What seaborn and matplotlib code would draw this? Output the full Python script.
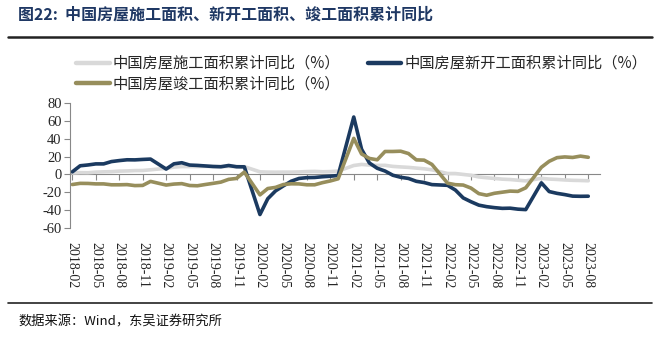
import matplotlib
matplotlib.use("Agg")
import matplotlib.pyplot as plt
import seaborn as sns
import pandas as pd
from matplotlib.lines import Line2D

# ---- data (cumulative YoY, %; January not published) ----
years = [2018, 2019, 2020, 2021, 2022, 2023]
months_full = [2, 3, 4, 5, 6, 7, 8, 9, 10, 11, 12]
months_2023 = [2, 3, 4, 5, 6, 7, 8]

under_construction = [
    1.6, 2.0, 1.9, 2.6, 2.9, 3.1, 3.7, 3.9, 4.3, 4.4, 5.2,
    6.8, 8.2, 8.8, 8.8, 8.8, 9.0, 8.8, 8.7, 9.0, 8.7, 8.7,
    2.9, 2.6, 2.5, 2.6, 2.6, 2.8, 3.2, 3.4, 3.0, 3.2, 3.7,
    10.0, 11.2, 10.5, 10.1, 10.2, 9.0, 8.4, 7.9, 7.1, 6.3, 5.2,
    1.0, 1.0, 0.0, -1.0, -2.8, -3.7, -4.5, -5.3, -5.7, -6.5, -7.2,
    -4.4, -5.2, -5.6, -6.2, -6.6, -6.8, -7.1,
]
new_starts = [
    2.9, 9.7, 10.6, 11.8, 11.8, 14.4, 15.5, 16.4, 16.3, 16.8, 17.2,
    6.0, 11.9, 13.1, 10.5, 10.1, 9.5, 8.9, 8.6, 10.0, 8.6, 8.5,
    -44.9, -27.2, -18.4, -12.8, -7.6, -4.5, -3.6, -3.4, -2.6, -2.0, -1.2,
    64.3, 28.2, 12.8, 6.9, 3.8, -0.9, -3.2, -4.5, -7.7, -9.1, -11.4,
    -12.2, -17.5, -26.3, -30.6, -34.4, -36.1, -37.2, -38.0, -37.8, -38.9, -39.4,
    -9.4, -19.2, -21.2, -22.6, -24.3, -24.5, -24.4,
]
completions = [
    -11.3, -10.0, -10.1, -10.6, -10.6, -11.6, -11.6, -11.4, -12.5, -12.3, -7.8,
    -11.9, -10.8, -10.3, -12.4, -12.7, -11.3, -10.0, -8.6, -5.5, -4.5, 2.6,
    -22.9, -15.8, -14.5, -11.3, -10.5, -10.6, -11.6, -11.6, -9.2, -7.3, -4.9,
    40.4, 22.9, 17.9, 16.4, 25.7, 25.7, 26.0, 23.4, 16.3, 16.0, 11.2,
    -9.8, -11.5, -11.9, -15.3, -21.5, -23.3, -21.1, -19.9, -18.7, -19.0, -15.0,
    8.0, 14.7, 18.8, 19.6, 19.0, 20.5, 19.2,
]
series_names = ["中国房屋施工面积累计同比（%）",
                "中国房屋新开工面积累计同比（%）",
                "中国房屋竣工面积累计同比（%）"]
colors = ["#D9D9D9", "#1B3A60", "#978E5C"]
yticks = [-60, -40, -20, 0, 20, 40, 60, 80]

# ---- build table ----
periods = []
for y in years:
    for m in (months_2023 if y == 2023 else months_full):
        periods.append((y, m))
xpos = [(y - 2018) * 12 + (m - 2) for y, m in periods]
rows = []
for name, vals in zip(series_names, [under_construction, new_starts, completions]):
    for x, v in zip(xpos, vals):
        rows.append({"x": x, "value": v, "series": name})
df = pd.DataFrame(rows)

tick_pos = list(range(0, xpos[-1] + 1, 3))
tick_lab = []
for p in tick_pos:
    yy = 2018 + (p + 1) // 12
    mm = (p + 1) % 12 + 1
    tick_lab.append(f"{yy}-{mm:02d}")

# ---- draw ----
sns.set_style("white")
plt.rcParams["font.family"] = ["Noto Sans CJK SC", "DejaVu Sans"]

fig = plt.figure(figsize=(6.6, 3.37), dpi=100)
ax = fig.add_axes([70 / 660, 1 - 228 / 337, 530 / 660, 125 / 337])

sns.lineplot(data=df, x="x", y="value", hue="series", hue_order=series_names,
             palette=colors, linewidth=2.6, ax=ax, legend=False,
             solid_capstyle="round", solid_joinstyle="round")

for s in ["top", "right"]:
    ax.spines[s].set_visible(False)
ax.spines["bottom"].set_position(("data", 0))
ax.spines["left"].set_color("#888888")
ax.spines["left"].set_linewidth(0.8)
ax.spines["bottom"].set_color("#888888")
ax.spines["bottom"].set_linewidth(0.8)
ax.spines["bottom"].set_zorder(0.5)

ax.set_xlim(-0.3, 67.5)
ax.set_ylim(-60, 80)
ax.set_yticks(yticks)
ax.set_yticklabels([str(v) for v in yticks], family="Liberation Serif", fontsize=10.5)
ax.set_xticks(tick_pos)
ax.set_xticklabels(tick_lab, rotation=270, family="Liberation Serif", fontsize=10,
                   va="top", ha="center")
ax.set_xlabel("")
ax.set_ylabel("")
ax.tick_params(axis="y", direction="out", length=4, color="#888888", pad=2, left=True)
ax.tick_params(axis="x", direction="out", length=4, color="#888888", pad=45, bottom=True)
ax.grid(False)

# legend (order so rows read: grey, blue / gold)
handles = [Line2D([0], [0], color=c, lw=3.2) for c in colors]
order = [0, 2, 1]
fig.legend([handles[i] for i in order], [series_names[i] for i in order],
           loc="upper left", bbox_to_anchor=(76 / 660, 1 - 55 / 337), ncol=2,
           frameon=False, fontsize=11, handlelength=2.2, handletextpad=0.2,
           columnspacing=1.8, labelspacing=0.25, borderaxespad=0, borderpad=0)

# title and rules
fig.text(18 / 660, 1 - 15 / 337, "图22:  中国房屋施工面积、新开工面积、竣工面积累计同比",
         fontsize=11.5, fontweight="bold", color="#1F3864", va="center", ha="left")
fig.add_artist(Line2D([8 / 660, 652 / 660], [1 - 37 / 337, 1 - 37 / 337],
                      color="#222222", lw=1.8, transform=fig.transFigure))
fig.add_artist(Line2D([8 / 660, 652 / 660], [1 - 303 / 337, 1 - 303 / 337],
                      color="#222222", lw=1.2, transform=fig.transFigure))
fig.text(18 / 660, 1 - 322 / 337, "数据来源：Wind，东吴证券研究所",
         fontsize=9.5, color="#111111", va="center", ha="left")

fig.savefig("out.png", dpi=100)
